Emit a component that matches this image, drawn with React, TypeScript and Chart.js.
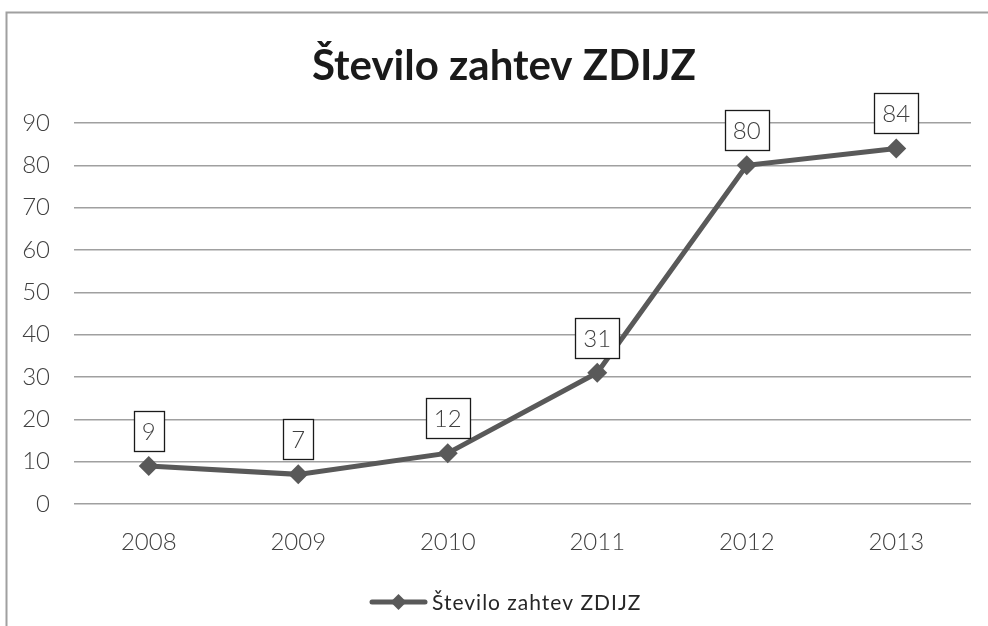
import React, { useEffect, useRef } from "react";
import { Chart, registerables } from "chart.js";

Chart.register(...registerables);

const years = ["2008", "2009", "2010", "2011", "2012", "2013"];
const requests = [9, 7, 12, 31, 80, 84];
const seriesName = "Število zahtev ZDIJZ";
const chartTitle = "Število zahtev ZDIJZ";
const yMin = 0;
const yMax = 90;
const yStep = 10;

const FONT = 'Lato, "Open Sans", "DejaVu Sans", sans-serif';
const LINE_COLOR = "#595959";

const framePlugin = {
  id: "frame",
  afterLayout(chart: any) {
    // centre the title over the whole frame like the original
    const tb = chart.titleBlock;
    if (tb) {
      tb.left = tb.left + 37;
      tb.width = tb.right - tb.left;
    }
  },
  beforeDraw(chart: any) {
    const ctx = chart.ctx;
    ctx.save();
    ctx.fillStyle = "#ffffff";
    ctx.fillRect(0, 0, chart.width, chart.height);
    ctx.strokeStyle = "#a0a0a0";
    ctx.lineWidth = 2;
    ctx.beginPath();
    ctx.moveTo(6.5, chart.height);
    ctx.lineTo(6.5, 12.5);
    ctx.lineTo(chart.width, 12.5);
    ctx.stroke();
    ctx.restore();
  },
};

const labelPlugin = {
  id: "boxLabels",
  afterDatasetsDraw(chart: any) {
    const ctx = chart.ctx;
    const meta = chart.getDatasetMeta(0);
    const data = chart.data.datasets[0].data as number[];
    ctx.save();
    ctx.font = `300 24px ${FONT}`;
    ctx.textAlign = "center";
    ctx.textBaseline = "middle";
    meta.data.forEach((pt: any, i: number) => {
      const txt = String(data[i]);
      const w = Math.round(ctx.measureText(txt).width + 16);
      const h = 40;
      const bx = Math.round(pt.x - w / 2) + 0.5;
      const by = Math.round(pt.y - 55) + 0.5;
      ctx.fillStyle = "#ffffff";
      ctx.fillRect(bx, by, w, h);
      ctx.strokeStyle = "#1a1a1a";
      ctx.lineWidth = 1.3;
      ctx.strokeRect(bx, by, w, h);
      ctx.fillStyle = "#404040";
      ctx.fillText(txt, pt.x, by + h / 2 + 1);
    });
    ctx.restore();
  },
};

const legendPlugin = {
  id: "customLegend",
  afterDraw(chart: any) {
    const ctx = chart.ctx;
    const y = 602;
    const x0 = 372;
    const x1 = 425;
    ctx.save();
    ctx.strokeStyle = LINE_COLOR;
    ctx.lineWidth = 5;
    ctx.lineCap = "round";
    ctx.beginPath();
    ctx.moveTo(x0, y);
    ctx.lineTo(x1, y);
    ctx.stroke();
    const cx = (x0 + x1) / 2;
    const r = 8;
    ctx.fillStyle = LINE_COLOR;
    ctx.beginPath();
    ctx.moveTo(cx, y - r);
    ctx.lineTo(cx + r, y);
    ctx.lineTo(cx, y + r);
    ctx.lineTo(cx - r, y);
    ctx.closePath();
    ctx.fill();
    ctx.font = `400 21px ${FONT}`;
    (ctx as any).letterSpacing = "1px";
    ctx.fillStyle = "#262626";
    ctx.textAlign = "left";
    ctx.textBaseline = "middle";
    ctx.fillText(seriesName, 432, y + 1);
    ctx.restore();
  },
};

export default function App() {
  const ref = useRef<HTMLCanvasElement | null>(null);

  useEffect(() => {
    if (!ref.current) return;
    const chart = new Chart(ref.current, {
      type: "line",
      data: {
        labels: years,
        datasets: [
          {
            label: seriesName,
            data: requests,
            borderColor: LINE_COLOR,
            backgroundColor: LINE_COLOR,
            borderWidth: 5,
            pointStyle: "rectRot",
            pointRadius: 10,
            pointBorderWidth: 0,
            pointBackgroundColor: LINE_COLOR,
            tension: 0,
            clip: false as any,
          },
        ],
      },
      options: {
        responsive: false,
        animation: false,
        layout: { padding: { left: 0, right: 17, top: 0, bottom: 61 } },
        plugins: {
          legend: { display: false },
          tooltip: { enabled: false },
          title: {
            display: true,
            text: chartTitle,
            color: "#1a1a1a",
            font: { family: FONT, size: 42, weight: "bold" as any, lineHeight: 1.2 },
            padding: { top: 41, bottom: 31.6 },
          },
        },
        scales: {
          x: {
            offset: true,
            grid: { display: false, drawTicks: false },
            border: { display: false },
            ticks: {
              color: "#404040",
              font: { family: FONT, size: 24, weight: "300" as any },
              padding: 24,
              maxRotation: 0,
            },
            afterFit(scale: any) {
              scale.height = 61;
            },
          },
          y: {
            min: yMin,
            max: yMax,
            grid: { color: "#a0a0a0", lineWidth: 1.5, drawTicks: false },
            border: { display: false },
            ticks: {
              stepSize: yStep,
              color: "#404040",
              font: { family: FONT, size: 24, weight: "300" as any },
              padding: 24,
            },
            afterFit(scale: any) {
              scale.width = 74;
            },
          },
        },
      },
      plugins: [framePlugin, labelPlugin, legendPlugin],
    });
    return () => chart.destroy();
  }, []);

  return (
    <div style={{ position: "fixed", left: 0, top: 0, width: 988, height: 626, background: "#fff" }}>
      <canvas ref={ref} width={988} height={626} style={{ display: "block" }} />
    </div>
  );
}
